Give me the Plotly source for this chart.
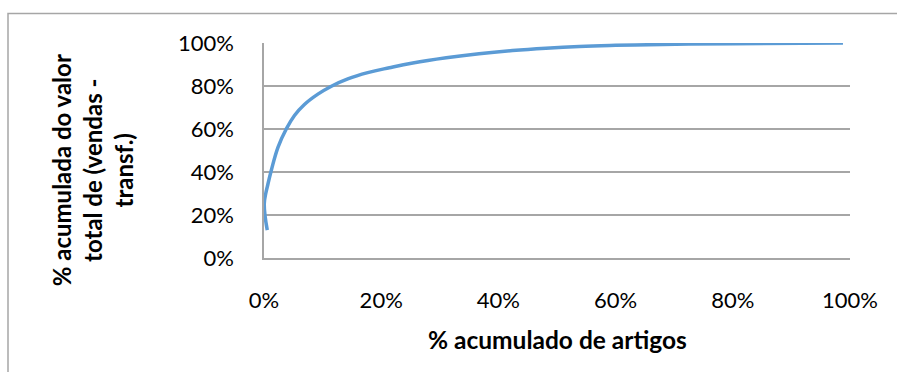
import plotly.graph_objects as go

# Cumulative share of articles (x) vs cumulative share of total value (y)
artigos_pct = [0.0056, 0.0020, 0.0005, 0.0030, 0.0056, 0.0125, 0.024, 0.038, 0.052,
               0.069, 0.092, 0.115, 0.143, 0.177, 0.214, 0.254, 0.311, 0.367,
               0.424, 0.481, 0.538, 0.600, 0.680, 0.800, 0.988]
valor_pct = [0.13, 0.192, 0.254, 0.300, 0.331, 0.408, 0.516, 0.600, 0.663,
             0.714, 0.762, 0.799, 0.833, 0.862, 0.885, 0.907, 0.931, 0.950,
             0.965, 0.976, 0.984, 0.989, 0.993, 0.997, 1.0]

tick_vals = [0, 0.2, 0.4, 0.6, 0.8, 1.0]
tick_text = ["0%", "20%", "40%", "60%", "80%", "100%"]

x_title = "% acumulado de artigos"
y_title = "% acumulada do valor<br>total de (vendas -<br>transf.)"

FONT = "Lato"
GRID = "#a6a6a6"

fig = go.Figure()
fig.add_trace(go.Scatter(
    x=artigos_pct, y=valor_pct, mode="lines",
    line=dict(color="#5b9bd5", width=3.5, shape="spline", smoothing=1.2),
    hoverinfo="skip", showlegend=False,
))

fig.update_layout(
    width=897, height=372,
    margin=dict(l=264, r=47, t=42.5, b=114),
    paper_bgcolor="white", plot_bgcolor="white",
    font=dict(family=FONT, size=22, color="#000000"),
    showlegend=False,
    xaxis=dict(
        range=[0, 1], tickvals=tick_vals, ticktext=tick_text,
        showgrid=False, zeroline=False,
        showline=True, linecolor=GRID, linewidth=1.5,
        ticks="", ticklabelstandoff=22,
    ),
    yaxis=dict(
        range=[0, 1], tickvals=tick_vals, ticktext=tick_text,
        showgrid=True, gridcolor=GRID, gridwidth=1.5, zeroline=False,
        showline=True, linecolor=GRID, linewidth=1.5,
        ticks="", ticklabelstandoff=24,
    ),
    annotations=[
        dict(text="<b>" + x_title + "</b>", xref="paper", yref="paper",
             x=0.5, y=-0.38, xanchor="center", yanchor="middle",
             showarrow=False, font=dict(family=FONT, size=24.5)),
        dict(text="<b>" + y_title + "</b>", xref="paper", yref="paper",
             x=-0.2935, y=0.408, xanchor="center", yanchor="middle",
             textangle=-90, showarrow=False,
             font=dict(family=FONT, size=24)),
    ],
    shapes=[
        # outer chart frame
        dict(type="rect", xref="paper", yref="paper",
             x0=(8 - 264) / 586, x1=1.2, y0=-0.7, y1=(258 - 13) / 215.5,
             line=dict(color=GRID, width=1.5), fillcolor="rgba(0,0,0,0)",
             layer="below"),
    ],
)

fig.write_html("out.html")
